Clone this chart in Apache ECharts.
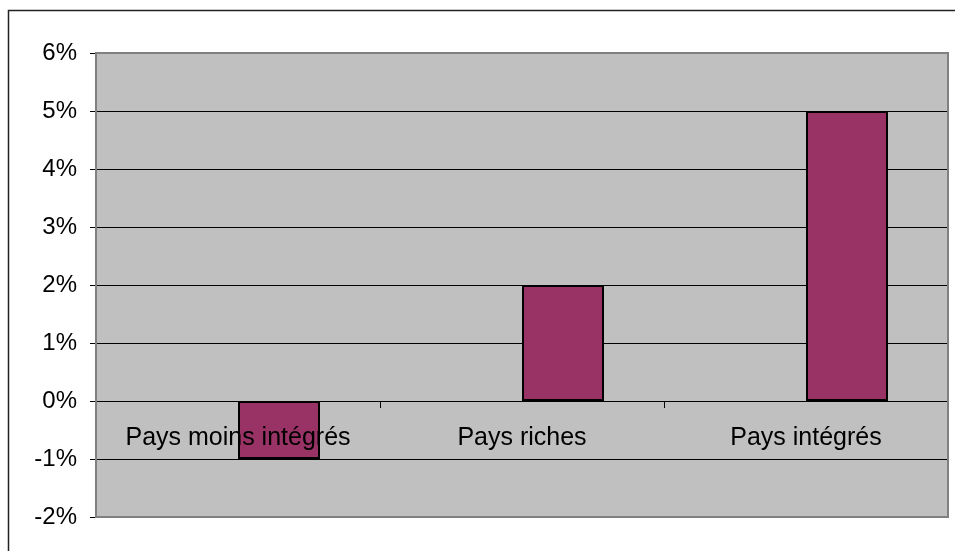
<!DOCTYPE html>
<html>
<head>
<meta charset="utf-8">
<script src="https://cdn.jsdelivr.net/npm/echarts@6/dist/echarts.min.js"></script>
<style>html,body{margin:0;padding:0;background:#fff;}#c{width:955px;height:551px;}</style>
</head>
<body>
<div id="c"></div>
<script>
const categories = ['Pays moins intégrés', 'Pays riches', 'Pays intégrés'];
const seriesEmpty = [null, null, null];
const seriesValues = [-1, 2, 5];
const yMin = -2, yMax = 6, yStep = 1;

const chart = echarts.init(document.getElementById('c'), null, {renderer: 'canvas'});
const font = '"Liberation Sans", Arial, sans-serif';
chart.setOption({
  animation: false,
  grid: {left: 96, right: 7, top: 53, bottom: 34, show: true, backgroundColor: '#C0C0C0', borderWidth: 0,
         containLabel: false, outerBoundsMode: 'none'},
  graphic: [
    {type: 'rect', shape: {x: 8.5, y: 10.5, width: 960, height: 560}, style: {fill: null, stroke: '#222', lineWidth: 1.5}, z: 0, silent: true},
    {type: 'rect', shape: {x: 96, y: 53, width: 852, height: 464}, style: {fill: null, stroke: '#808080', lineWidth: 2}, z: 100, silent: true}
  ],
  xAxis: [{
    type: 'category', data: categories, boundaryGap: true,
    axisLine: {onZero: true, lineStyle: {color: '#000', width: 1}},
    axisTick: {show: true, length: 7, lineStyle: {color: '#000'}},
    axisLabel: {show: false}
  }, {
    type: 'category', data: categories, boundaryGap: true, position: 'bottom', offset: -116, z: 50,
    axisLine: {show: false, onZero: false},
    axisTick: {show: false},
    axisLabel: {color: '#000', fontFamily: font, fontSize: 25, margin: 25, interval: 0}
  }],
  yAxis: {
    type: 'value', min: yMin, max: yMax, interval: yStep,
    axisLine: {show: false},
    axisTick: {show: true, length: 6, lineStyle: {color: '#000'}},
    axisLabel: {color: '#000', fontFamily: font, fontSize: 24, margin: 19, formatter: '{value}%'},
    splitLine: {show: true, lineStyle: {color: '#000', width: 1}}
  },
  series: [
    {type: 'bar', xAxisIndex: 0, data: seriesEmpty, barWidth: 82, barGap: '0%'},
    {type: 'bar', xAxisIndex: 0, data: seriesValues, barWidth: 82, barGap: '0%', z: 1,
     itemStyle: {color: '#993366', borderColor: '#000', borderWidth: 2}}
  ]
});
</script>
</body>
</html>
